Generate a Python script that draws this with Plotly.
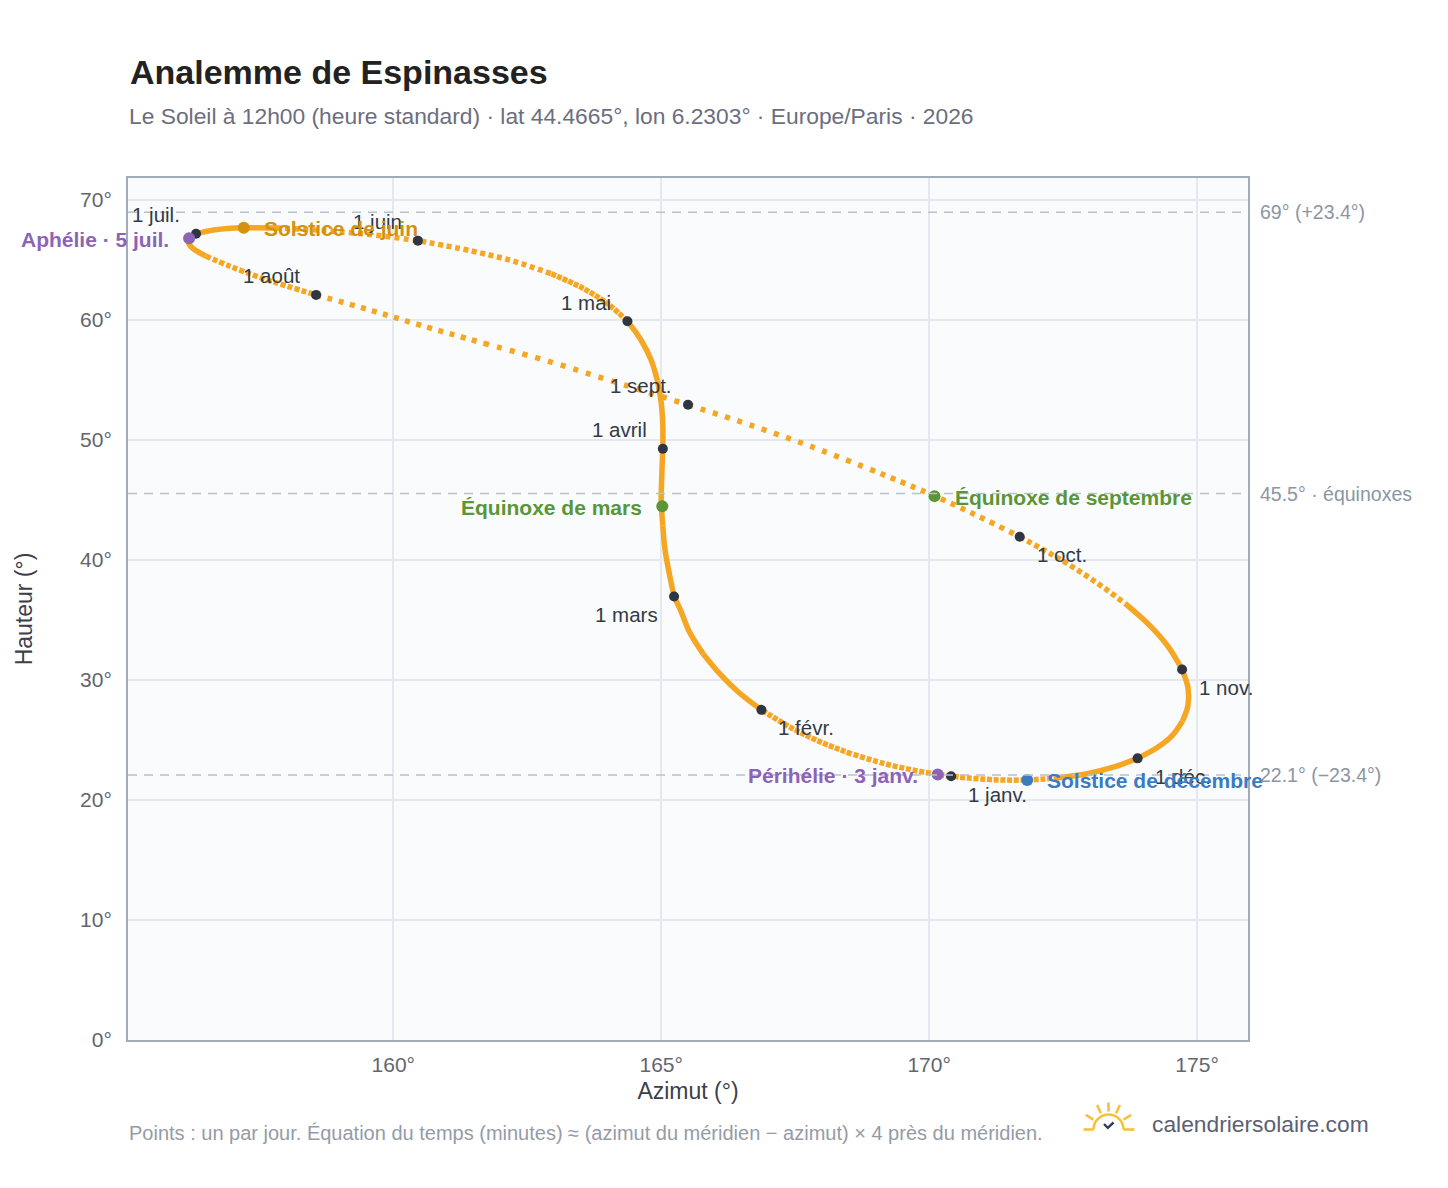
import math
import plotly.graph_objects as go

# Analemme : un point tous les 5 jours (1, 6, 11, 16, 21, 26 de chaque mois), puis le 31 déc.
mois_noms = ["janv.", "févr.", "mars", "avril", "mai", "juin",
             "juil.", "août", "sept.", "oct.", "nov.", "déc."]
jours_mois = [31, 28, 31, 30, 31, 30, 31, 31, 30, 31, 30, 31]

azimut = [
    170.41, 169.78, 169.15, 168.55, 167.98, 167.45,  # janv.
    166.87, 166.45, 166.09, 165.78, 165.53, 165.36,  # févr.
    165.24, 165.15, 165.07, 165.03, 165.00, 165.01,  # mars
    165.03, 165.03, 165.00, 164.93, 164.81, 164.62,  # avril
    164.37, 164.00, 163.53, 162.94, 162.25, 161.44,  # mai
    160.46, 159.55, 158.70, 157.90, 157.21, 156.68,  # juin
    156.32, 156.17, 156.23, 156.50, 156.96, 157.58,  # juil.
    158.56, 159.54, 160.56, 161.69, 162.90, 164.06,  # août
    165.50, 166.70, 167.83, 168.90, 169.91, 170.84,  # sept.
    171.69, 172.45, 173.10, 173.66, 174.11, 174.45,  # oct.
    174.72, 174.83, 174.83, 174.73, 174.54, 174.25,  # nov.
    173.89, 173.45, 172.97, 172.42, 171.83, 171.21,  # déc.
    170.57,                                          # 31 déc.
]
hauteur = [
    21.98, 22.42, 23.05, 23.85, 24.82, 25.96,
    27.51, 28.96, 30.53, 32.20, 33.97, 35.82,
    36.96, 38.90, 40.88, 42.88, 44.88, 46.89,
    49.27, 51.21, 53.11, 54.93, 56.68, 58.35,
    59.90, 61.35, 62.67, 63.86, 64.89, 65.77,
    66.61, 67.13, 67.45, 67.67, 67.68, 67.51,
    67.18, 66.71, 66.09, 65.33, 64.46, 63.44,
    62.09, 60.86, 59.49, 58.06, 56.55, 54.94,
    52.93, 51.19, 49.40, 47.55, 45.70, 43.82,
    41.93, 40.04, 38.19, 36.36, 34.57, 32.84,
    30.88, 29.35, 27.89, 26.59, 25.39, 24.35,
    23.47, 22.75, 22.21, 21.85, 21.67, 21.69,
    21.90,
]

# position des étiquettes du 1er de chaque mois (t/b = dessus/dessous, l/r = gauche/droite)
mois_pos = ["br", "br", "bl", "tl", "tl", "tl", "tl", "tl", "tl", "br", "br", "br"]

# événements
evt_noms = ["Aphélie · 5 juil.", "Solstice de juin", "Équinoxe de mars",
            "Équinoxe de septembre", "Périhélie · 3 janv.", "Solstice de décembre"]
evt_az = [156.19, 157.21, 165.02, 170.10, 170.16, 171.83]
evt_haut = [66.81, 67.68, 44.48, 45.32, 22.13, 21.67]
evt_couleurs = ["#8d63b6", "#d4910c", "#5a9637", "#5a9637", "#8d63b6", "#3b7bc4"]
evt_cote = ["l", "r", "l", "r", "l", "r"]

# hauteurs méridiennes de référence
niveaux = [68.97, 45.53, 22.09]
niveaux_txt = ["69° (+23.4°)", "45.5° · équinoxes", "22.1° (−23.4°)"]

FONT = "Liberation Sans, Arial, sans-serif"
ORANGE = "#f5a623"
X_RANGE = [155.05, 175.95]
Y_RANGE = [0, 71.83]
W, H = 1440, 1180
L, R, T, B = 120, 200, 170, 148
PW, PH = W - L - R, H - T - B
kx = PW / (X_RANGE[1] - X_RANGE[0])
ky = PH / (Y_RANGE[1] - Y_RANGE[0])

# jour de l'année de chaque point
jours = []
debut = 0
for n in jours_mois:
    jours += [debut + k for k in (0, 5, 10, 15, 20, 25)]
    debut += n
jours.append(364)

fig = go.Figure()

# courbe : un segment par demi-mois, pointillé selon l'écart moyen entre deux jours
for s in range(24):
    idx = list(range(3 * s, 3 * s + 4))
    fin = jours[idx[-1]]
    if s == 23:
        idx = idx + [0]
        fin = 365
    xs = [azimut[i] for i in idx]
    ys = [hauteur[i] for i in idx]
    longueur = sum(math.hypot((xs[i + 1] - xs[i]) * kx, (ys[i + 1] - ys[i]) * ky)
                   for i in range(len(xs) - 1))
    pas = longueur / (fin - jours[idx[0]])
    dot = 5
    dash = "solid" if pas < dot + 0.8 else "%dpx,%.1fpx" % (dot, pas - dot)
    fig.add_trace(go.Scatter(x=xs, y=ys, mode="lines",
                             line=dict(color=ORANGE, width=5.5, shape="spline", dash=dash),
                             hoverinfo="skip", showlegend=False))

# 1er de chaque mois
mois_az = azimut[0:72:6]
mois_haut = hauteur[0:72:6]
fig.add_trace(go.Scatter(x=mois_az, y=mois_haut, mode="markers",
                         marker=dict(size=10, color="#2f3542"),
                         hoverinfo="skip", showlegend=False))

# événements
fig.add_trace(go.Scatter(x=evt_az, y=evt_haut, mode="markers",
                         marker=dict(size=12, color=evt_couleurs),
                         hoverinfo="skip", showlegend=False))

annotations = []
for nom, x, y, pos in zip(mois_noms, mois_az, mois_haut, mois_pos):
    gauche = pos[1] == "l"
    haut = pos[0] == "t"
    annotations.append(dict(
        x=x, y=y, xref="x", yref="y", text="1 " + nom, showarrow=False,
        xanchor="right" if gauche else "left", yanchor="middle",
        xshift=-14 if gauche else 15, yshift=19 if haut else -18,
        font=dict(family=FONT, size=20.5, color="#333a45")))

for nom, x, y, c, cote in zip(evt_noms, evt_az, evt_haut, evt_couleurs, evt_cote):
    annotations.append(dict(
        x=x, y=y, xref="x", yref="y", text="<b>" + nom + "</b>", showarrow=False,
        xanchor="right" if cote == "l" else "left", yanchor="middle",
        xshift=-18 if cote == "l" else 18, yshift=-1,
        font=dict(family=FONT, size=21, color=c)))

shapes = []
for yv, txt in zip(niveaux, niveaux_txt):
    shapes.append(dict(type="line", xref="paper", yref="y", x0=0, x1=1, y0=yv, y1=yv,
                       line=dict(color="#b9c1cc", width=1.5, dash="9px,7px")))
    annotations.append(dict(x=1, y=yv, xref="paper", yref="y", text=txt, showarrow=False,
                            xanchor="left", yanchor="middle", xshift=10,
                            font=dict(family=FONT, size=19.5, color="#8c95a3")))


def px(x, y):
    # position à l'écran -> coordonnées paper (la page décale la figure de 8 px)
    return (x - 8 - L) / PW, (H - B - (y - 8)) / PH


# titre, sous-titre, note
annotations.append(dict(x=px(128, 0)[0], y=px(0, 72)[1], xref="paper", yref="paper",
                        text="<b>Analemme de Espinasses</b>", showarrow=False,
                        xanchor="left", yanchor="middle",
                        font=dict(family=FONT, size=34, color="#222222")))
annotations.append(dict(x=px(127, 0)[0], y=px(0, 116)[1], xref="paper", yref="paper",
                        text="Le Soleil à 12h00 (heure standard) · lat 44.4665°, lon 6.2303° · Europe/Paris · 2026",
                        showarrow=False, xanchor="left", yanchor="middle",
                        font=dict(family=FONT, size=22.8, color="#6b6e7e")))
annotations.append(dict(x=px(127, 0)[0], y=px(0, 1133)[1], xref="paper", yref="paper",
                        text="Points : un par jour. Équation du temps (minutes) ≈ (azimut du méridien − azimut) × 4 près du méridien.",
                        showarrow=False, xanchor="left", yanchor="middle",
                        font=dict(family=FONT, size=20, color="#959ba7")))
annotations.append(dict(x=px(1150, 0)[0], y=px(0, 1124)[1], xref="paper", yref="paper",
                        text="calendriersolaire.com", showarrow=False,
                        xanchor="left", yanchor="middle",
                        font=dict(family=FONT, size=22.8, color="#5b6072")))

# logo soleil
cx, cy, r = 1108.5, 1129.5, 15
kk = 0.5523 * r


def pt(x, y):
    a, b = px(x, y)
    return "%.5f,%.5f" % (a, b)


arc = ("M " + pt(cx - r, cy) + " C " + pt(cx - r, cy - kk) + " " + pt(cx - kk, cy - r) + " " + pt(cx, cy - r)
       + " C " + pt(cx + kk, cy - r) + " " + pt(cx + r, cy - kk) + " " + pt(cx + r, cy))
jaune = "#f6c13c"
shapes.append(dict(type="path", xref="paper", yref="paper", path=arc, line=dict(color=jaune, width=2.6)))
for x0, x1 in [(cx - 25, cx - r), (cx + r, cx + 26)]:
    a0, b0 = px(x0, cy)
    a1, b1 = px(x1, cy)
    shapes.append(dict(type="line", xref="paper", yref="paper", x0=a0, y0=b0, x1=a1, y1=b1,
                       line=dict(color=jaune, width=2.6)))
for ang in [33, 65, 90, 115, 147]:
    t = math.radians(ang)
    a0, b0 = px(cx + 18 * math.cos(t), cy - 18 * math.sin(t))
    a1, b1 = px(cx + 27 * math.cos(t), cy - 27 * math.sin(t))
    shapes.append(dict(type="line", xref="paper", yref="paper", x0=a0, y0=b0, x1=a1, y1=b1,
                       line=dict(color=jaune, width=2.6)))
check = "M " + pt(1104, 1124) + " L " + pt(1107.8, 1127.8) + " L " + pt(1113.5, 1122.5)
shapes.append(dict(type="path", xref="paper", yref="paper", path=check, line=dict(color="#2c3e5c", width=2.4)))

axe = dict(showline=True, mirror=True, linecolor="#a2acb9", linewidth=2,
           gridcolor="#e4e9ef", gridwidth=1.5, zeroline=False, ticks="",
           ticksuffix="°", showticksuffix="all",
           tickfont=dict(family=FONT, size=21, color="#62666f"))

fig.update_layout(
    width=W, height=H,
    margin=dict(l=L, r=R, t=T, b=B, autoexpand=False),
    paper_bgcolor="white", plot_bgcolor="#f9fbfd",
    showlegend=False,
    annotations=annotations, shapes=shapes,
    xaxis=dict(axe, range=X_RANGE, tickmode="linear", tick0=160, dtick=5, ticklabelstandoff=5,
               title=dict(text="Azimut (°)", standoff=8, font=dict(family=FONT, size=23, color="#3b404b"))),
    yaxis=dict(axe, range=Y_RANGE, tickmode="linear", tick0=0, dtick=10, ticklabelstandoff=10,
               title=dict(text="Hauteur (°)", standoff=41, font=dict(family=FONT, size=23, color="#3b404b"))),
)

fig.write_html("out.html")
